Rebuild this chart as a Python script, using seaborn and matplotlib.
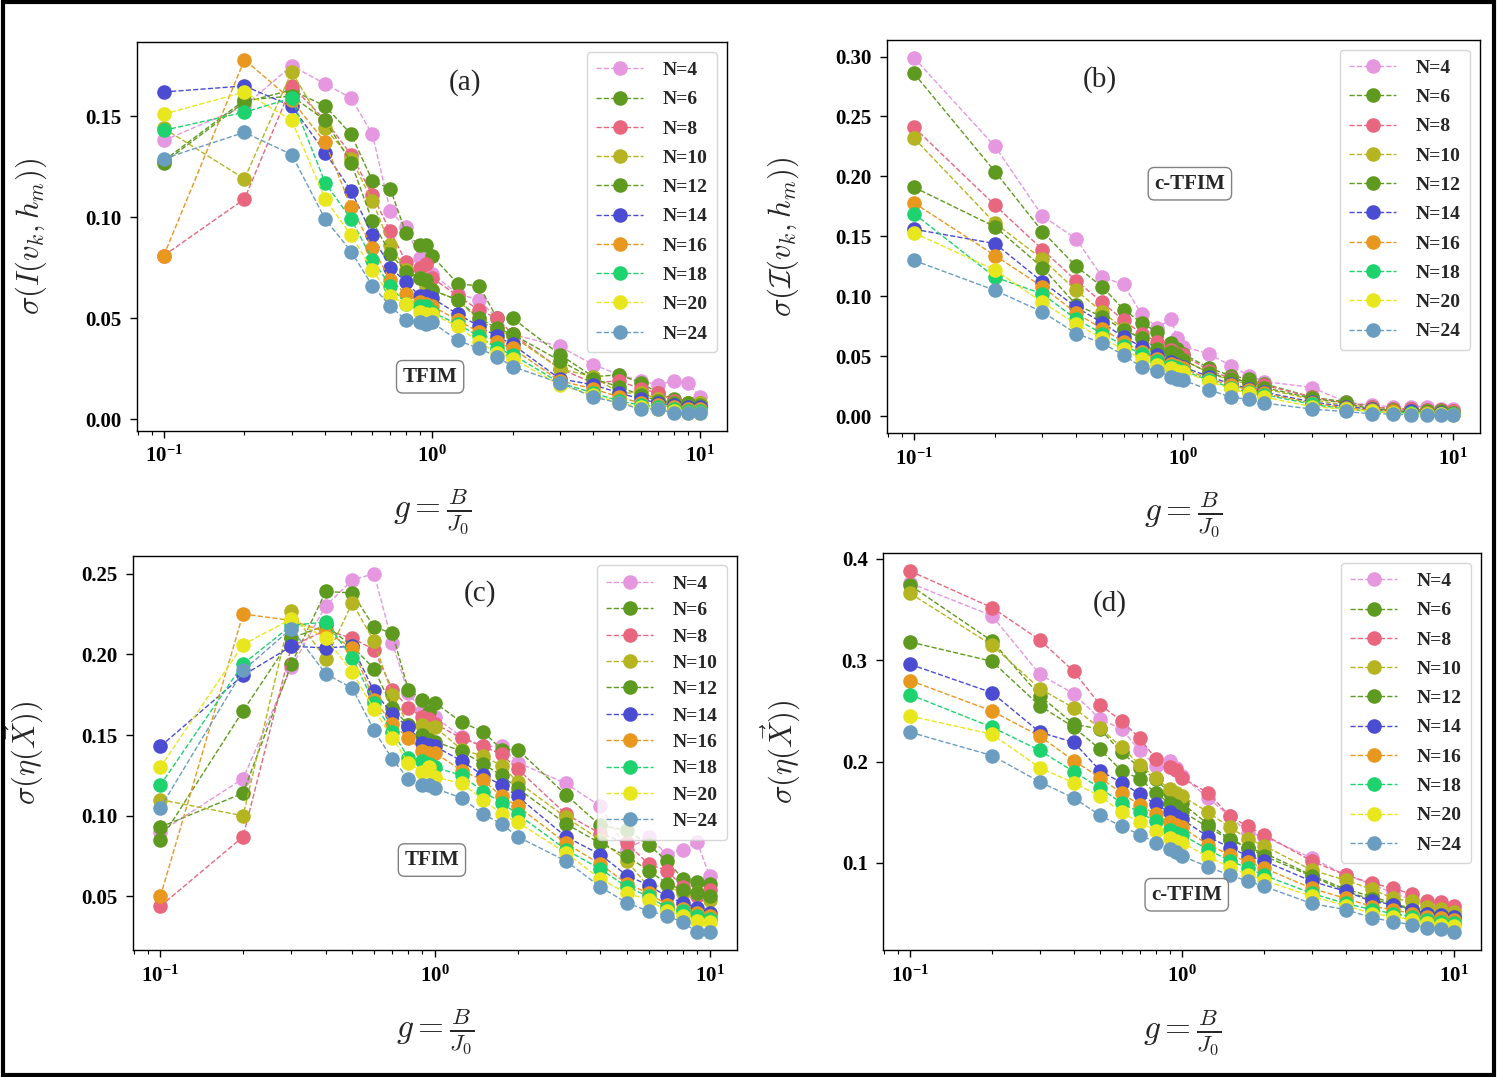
import matplotlib
matplotlib.use('Agg')
import matplotlib.pyplot as plt
import pandas as pd
import seaborn as sns
from matplotlib.patches import Rectangle
from matplotlib.ticker import MultipleLocator

# transverse field g = B/J0 (shared by every panel)
g = [0.1, 0.2, 0.3, 0.4, 0.5, 0.6, 0.7, 0.8, 0.9, 0.95, 1.0,
     1.25, 1.5, 1.75, 2, 3, 4, 5, 6, 7, 8, 9, 10]

sizes = [4, 6, 8, 10, 12, 14, 16, 18, 20, 24]
colors = ['#E597E0', '#5F9A20', '#E8677F', '#B5B421', '#5F9A20',
          '#4B4CD2', '#E8971F', '#1ED26E', '#E8E61C', '#6A9DBF']

# (a) sigma(I(v_k, h_m)), TFIM -- one row per N
sig_I_tfim = [
    [0.138, 0.155, 0.175, 0.166, 0.159, 0.141, 0.103, 0.095, 0.080, 0.076, 0.072, 0.062, 0.059, 0.050, 0.042, 0.036, 0.027, 0.022, 0.019, 0.017, 0.019, 0.018, 0.011],
    [0.127, 0.157, 0.163, 0.155, 0.141, 0.118, 0.114, 0.092, 0.086, 0.086, 0.081, 0.067, 0.066, 0.050, 0.050, 0.032, 0.021, 0.022, 0.018, 0.013, 0.010, 0.008, 0.008],
    [0.081, 0.109, 0.165, 0.148, 0.131, 0.111, 0.093, 0.078, 0.075, 0.077, 0.070, 0.061, 0.054, 0.050, 0.042, 0.025, 0.018, 0.019, 0.015, 0.013, 0.009, 0.008, 0.007],
    [0.144, 0.119, 0.172, 0.144, 0.129, 0.108, 0.086, 0.074, 0.070, 0.066, 0.064, 0.059, 0.049, 0.044, 0.041, 0.025, 0.021, 0.013, 0.013, 0.010, 0.008, 0.008, 0.008],
    [0.128, 0.158, 0.160, 0.148, 0.127, 0.098, 0.082, 0.073, 0.070, 0.069, 0.064, 0.059, 0.050, 0.045, 0.042, 0.029, 0.020, 0.016, 0.012, 0.009, 0.008, 0.008, 0.007],
    [0.162, 0.165, 0.155, 0.132, 0.113, 0.091, 0.075, 0.068, 0.061, 0.061, 0.060, 0.052, 0.046, 0.041, 0.037, 0.020, 0.017, 0.013, 0.010, 0.008, 0.007, 0.006, 0.006],
    [0.081, 0.178, 0.158, 0.137, 0.105, 0.085, 0.069, 0.062, 0.058, 0.057, 0.056, 0.049, 0.043, 0.038, 0.035, 0.019, 0.015, 0.011, 0.008, 0.007, 0.006, 0.005, 0.005],
    [0.143, 0.152, 0.159, 0.117, 0.099, 0.079, 0.066, 0.057, 0.056, 0.056, 0.053, 0.047, 0.041, 0.035, 0.032, 0.018, 0.013, 0.009, 0.007, 0.006, 0.005, 0.004, 0.004],
    [0.151, 0.162, 0.148, 0.109, 0.091, 0.074, 0.061, 0.057, 0.053, 0.052, 0.052, 0.046, 0.038, 0.033, 0.030, 0.017, 0.012, 0.008, 0.006, 0.005, 0.004, 0.003, 0.003],
    [0.129, 0.142, 0.131, 0.099, 0.083, 0.066, 0.056, 0.049, 0.048, 0.047, 0.048, 0.039, 0.035, 0.031, 0.026, 0.018, 0.011, 0.008, 0.005, 0.005, 0.003, 0.003, 0.003],
]

# (b) sigma(calI(v_k, h_m)), c-TFIM
sig_I_ctfim = [
    [0.299, 0.225, 0.167, 0.148, 0.116, 0.110, 0.085, 0.074, 0.081, 0.065, 0.058, 0.052, 0.042, 0.034, 0.029, 0.024, 0.012, 0.009, 0.008, 0.008, 0.008, 0.006, 0.006],
    [0.286, 0.204, 0.154, 0.125, 0.108, 0.089, 0.078, 0.070, 0.061, 0.056, 0.052, 0.040, 0.034, 0.031, 0.027, 0.016, 0.012, 0.008, 0.006, 0.006, 0.005, 0.005, 0.004],
    [0.241, 0.176, 0.139, 0.113, 0.095, 0.080, 0.069, 0.062, 0.055, 0.052, 0.051, 0.038, 0.032, 0.029, 0.026, 0.016, 0.011, 0.008, 0.006, 0.006, 0.005, 0.005, 0.004],
    [0.232, 0.161, 0.131, 0.105, 0.087, 0.073, 0.065, 0.056, 0.051, 0.049, 0.047, 0.036, 0.030, 0.027, 0.023, 0.014, 0.009, 0.006, 0.005, 0.004, 0.004, 0.003, 0.003],
    [0.191, 0.158, 0.124, 0.093, 0.083, 0.072, 0.065, 0.056, 0.054, 0.051, 0.047, 0.036, 0.031, 0.029, 0.024, 0.015, 0.011, 0.006, 0.005, 0.004, 0.004, 0.004, 0.003],
    [0.156, 0.144, 0.112, 0.091, 0.078, 0.066, 0.058, 0.051, 0.045, 0.043, 0.041, 0.033, 0.027, 0.023, 0.020, 0.012, 0.008, 0.006, 0.004, 0.004, 0.003, 0.003, 0.002],
    [0.178, 0.134, 0.108, 0.086, 0.073, 0.062, 0.054, 0.048, 0.044, 0.042, 0.040, 0.031, 0.026, 0.022, 0.019, 0.011, 0.007, 0.005, 0.004, 0.003, 0.003, 0.002, 0.002],
    [0.169, 0.116, 0.102, 0.081, 0.069, 0.059, 0.052, 0.046, 0.042, 0.040, 0.038, 0.030, 0.024, 0.020, 0.018, 0.010, 0.006, 0.004, 0.003, 0.003, 0.002, 0.002, 0.002],
    [0.153, 0.122, 0.095, 0.077, 0.065, 0.056, 0.048, 0.043, 0.040, 0.038, 0.037, 0.029, 0.023, 0.019, 0.016, 0.008, 0.006, 0.004, 0.003, 0.002, 0.002, 0.002, 0.001],
    [0.130, 0.105, 0.087, 0.069, 0.061, 0.051, 0.041, 0.038, 0.033, 0.031, 0.030, 0.022, 0.016, 0.014, 0.011, 0.006, 0.004, 0.002, 0.002, 0.001, 0.001, 0.001, 0.001],
]

# (c) sigma(eta(X)), TFIM
sig_eta_tfim = [
    [0.090, 0.123, 0.192, 0.230, 0.246, 0.250, 0.207, 0.176, 0.165, 0.160, 0.161, 0.149, 0.143, 0.143, 0.133, 0.120, 0.106, 0.079, 0.087, 0.076, 0.079, 0.084, 0.063],
    [0.093, 0.114, 0.194, 0.239, 0.238, 0.217, 0.213, 0.178, 0.172, 0.164, 0.170, 0.158, 0.152, 0.141, 0.141, 0.113, 0.094, 0.091, 0.082, 0.072, 0.061, 0.059, 0.058],
    [0.044, 0.087, 0.205, 0.215, 0.210, 0.203, 0.178, 0.167, 0.161, 0.160, 0.157, 0.148, 0.143, 0.138, 0.129, 0.101, 0.089, 0.083, 0.070, 0.066, 0.056, 0.050, 0.054],
    [0.110, 0.100, 0.227, 0.197, 0.232, 0.208, 0.175, 0.156, 0.156, 0.154, 0.155, 0.141, 0.137, 0.131, 0.121, 0.099, 0.085, 0.072, 0.056, 0.057, 0.052, 0.052, 0.048],
    [0.085, 0.165, 0.210, 0.218, 0.205, 0.191, 0.167, 0.156, 0.150, 0.147, 0.146, 0.140, 0.132, 0.125, 0.117, 0.095, 0.083, 0.075, 0.066, 0.058, 0.054, 0.052, 0.050],
    [0.143, 0.187, 0.205, 0.204, 0.205, 0.177, 0.163, 0.155, 0.145, 0.144, 0.143, 0.134, 0.125, 0.119, 0.112, 0.087, 0.076, 0.063, 0.057, 0.050, 0.046, 0.043, 0.040],
    [0.050, 0.225, 0.221, 0.214, 0.204, 0.172, 0.157, 0.148, 0.140, 0.139, 0.139, 0.128, 0.122, 0.112, 0.106, 0.083, 0.070, 0.058, 0.052, 0.045, 0.042, 0.040, 0.038],
    [0.119, 0.194, 0.218, 0.220, 0.198, 0.170, 0.152, 0.136, 0.134, 0.132, 0.130, 0.125, 0.115, 0.108, 0.101, 0.079, 0.067, 0.056, 0.050, 0.043, 0.041, 0.038, 0.036],
    [0.130, 0.206, 0.222, 0.210, 0.189, 0.166, 0.148, 0.133, 0.127, 0.130, 0.124, 0.120, 0.110, 0.101, 0.096, 0.077, 0.061, 0.052, 0.048, 0.041, 0.038, 0.035, 0.034],
    [0.105, 0.190, 0.216, 0.188, 0.179, 0.153, 0.135, 0.123, 0.119, 0.119, 0.117, 0.111, 0.101, 0.095, 0.087, 0.072, 0.056, 0.046, 0.041, 0.038, 0.034, 0.028, 0.028],
]

# (d) sigma(eta(X)), c-TFIM
sig_eta_ctfim = [
    [0.376, 0.344, 0.286, 0.267, 0.242, 0.232, 0.211, 0.196, 0.201, 0.194, 0.186, 0.164, 0.146, 0.130, 0.126, 0.105, 0.088, 0.079, 0.070, 0.064, 0.059, 0.056, 0.054],
    [0.374, 0.319, 0.265, 0.237, 0.232, 0.209, 0.194, 0.183, 0.169, 0.164, 0.159, 0.138, 0.124, 0.115, 0.110, 0.088, 0.074, 0.067, 0.060, 0.055, 0.052, 0.050, 0.049],
    [0.388, 0.352, 0.320, 0.289, 0.256, 0.240, 0.223, 0.203, 0.195, 0.192, 0.184, 0.169, 0.146, 0.136, 0.128, 0.102, 0.088, 0.080, 0.075, 0.069, 0.062, 0.061, 0.058],
    [0.366, 0.315, 0.272, 0.253, 0.233, 0.214, 0.197, 0.184, 0.173, 0.169, 0.166, 0.150, 0.135, 0.124, 0.117, 0.093, 0.083, 0.074, 0.065, 0.062, 0.057, 0.055, 0.052],
    [0.318, 0.299, 0.255, 0.234, 0.212, 0.191, 0.183, 0.169, 0.159, 0.156, 0.151, 0.135, 0.123, 0.115, 0.107, 0.087, 0.072, 0.064, 0.059, 0.054, 0.050, 0.048, 0.047],
    [0.296, 0.268, 0.229, 0.219, 0.191, 0.179, 0.168, 0.158, 0.150, 0.146, 0.143, 0.126, 0.115, 0.107, 0.102, 0.082, 0.072, 0.062, 0.059, 0.054, 0.050, 0.049, 0.047],
    [0.280, 0.250, 0.225, 0.201, 0.184, 0.169, 0.157, 0.148, 0.140, 0.137, 0.135, 0.118, 0.108, 0.101, 0.095, 0.075, 0.065, 0.057, 0.054, 0.050, 0.047, 0.046, 0.044],
    [0.266, 0.234, 0.211, 0.190, 0.174, 0.159, 0.150, 0.141, 0.133, 0.130, 0.128, 0.113, 0.102, 0.095, 0.088, 0.070, 0.060, 0.054, 0.050, 0.047, 0.044, 0.042, 0.041],
    [0.245, 0.227, 0.194, 0.179, 0.166, 0.150, 0.140, 0.132, 0.125, 0.122, 0.120, 0.106, 0.096, 0.088, 0.083, 0.067, 0.058, 0.050, 0.047, 0.044, 0.041, 0.039, 0.038],
    [0.229, 0.206, 0.180, 0.164, 0.147, 0.136, 0.128, 0.120, 0.114, 0.111, 0.107, 0.096, 0.088, 0.082, 0.077, 0.060, 0.054, 0.046, 0.042, 0.039, 0.036, 0.035, 0.032],
]

sns.set_theme(style='ticks')
plt.rcParams['font.family'] = ['Liberation Serif', 'DejaVu Serif']
plt.rcParams['font.weight'] = 'bold'
plt.rcParams['mathtext.fontset'] = 'cm'
plt.rcParams['axes.edgecolor'] = 'black'
plt.rcParams['axes.linewidth'] = 1.0
for ax_name in ['xtick', 'ytick']:
    plt.rcParams[ax_name + '.major.size'] = 5
    plt.rcParams[ax_name + '.minor.size'] = 3
    plt.rcParams[ax_name + '.major.width'] = 1
    plt.rcParams[ax_name + '.minor.width'] = 0.8
    plt.rcParams[ax_name + '.color'] = 'black'


def draw_panel(ax, values, tag, tag_pos, model, model_pos, ylabel, ylab_x, ystep,
               leg_spacing=0.6):
    rows = []
    for n, series in zip(sizes, values):
        for x, y in zip(g, series):
            rows.append((x, y, f'N={n}'))
    df = pd.DataFrame(rows, columns=['g', 'sigma', 'N'])

    ax.set_xscale('log')
    sns.lineplot(data=df, x='g', y='sigma', hue='N', palette=colors,
                 marker='o', markersize=10.5, markeredgewidth=0,
                 linestyle='--', linewidth=1, estimator=None, sort=False,
                 legend=False, ax=ax)

    ax.yaxis.set_major_locator(MultipleLocator(ystep))
    ax.set_xlabel(r'$g=\frac{B}{J_0}$', fontsize=24)
    ax.xaxis.set_label_coords(0.5, -0.145)
    ax.set_ylabel(ylabel, fontsize=22)
    ax.yaxis.set_label_coords(ylab_x, 0.5)
    ax.tick_params(axis='both', which='major', labelsize=15, pad=6)

    ax.text(tag_pos[0], tag_pos[1], tag, transform=ax.transAxes,
            ha='center', va='center', fontsize=21, fontweight='normal')
    ax.text(model_pos[0], model_pos[1], model, transform=ax.transAxes,
            ha='center', va='center', fontsize=15, fontweight='bold',
            bbox=dict(boxstyle='round,pad=0.3', fc='white', ec='gray'))

    labels = [f'N={n}' for n in sizes]
    ax.legend(ax.get_lines(), labels, loc='upper right', fontsize=14,
              labelspacing=leg_spacing, handlelength=2.4, handletextpad=1.0,
              borderpad=0.5, frameon=True)


fig = plt.figure(figsize=(14.97, 10.77), dpi=100)

ax_a = fig.add_axes([0.0915, 0.600, 0.394, 0.361])
ax_b = fig.add_axes([0.5925, 0.598, 0.396, 0.365])
ax_c = fig.add_axes([0.0888, 0.118, 0.4035, 0.366])
ax_d = fig.add_axes([0.5898, 0.118, 0.3995, 0.3685])

draw_panel(ax_a, sig_I_tfim, '(a)', (0.556, 0.897), 'TFIM', (0.497, 0.139),
           r'$\sigma(I(v_k,h_m))$', -0.150, 0.05)
draw_panel(ax_b, sig_I_ctfim, '(b)', (0.359, 0.898), 'c-TFIM', (0.511, 0.634),
           r'$\sigma(\mathcal{I}(v_k,h_m))$', -0.145, 0.05)
draw_panel(ax_c, sig_eta_tfim, '(c)', (0.575, 0.904), 'TFIM', (0.495, 0.228),
           r'$\sigma(\eta(\vec{X}))$', -0.145, 0.05, leg_spacing=0.45)
draw_panel(ax_d, sig_eta_ctfim, '(d)', (0.380, 0.874), 'c-TFIM', (0.508, 0.139),
           r'$\sigma(\eta(\vec{X}))$', -0.135, 0.1)

# black frame around the whole figure
fig.patches.append(Rectangle((0.002, 0.002), 0.996, 0.996, transform=fig.transFigure,
                             fill=False, edgecolor='black', linewidth=3))

fig.savefig('out.png', dpi=100)
